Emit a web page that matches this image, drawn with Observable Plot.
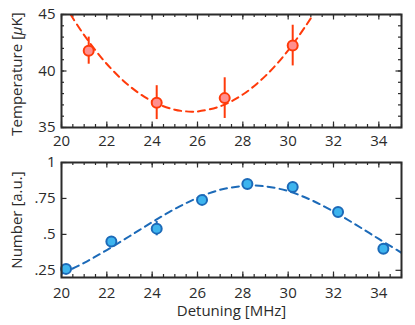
<!DOCTYPE html>
<html>
<head>
<meta charset="utf-8">
<script src="https://cdn.jsdelivr.net/npm/d3@7"></script>
<script src="https://cdn.jsdelivr.net/npm/@observablehq/plot@0.6"></script>
<style>
  html, body { margin: 0; padding: 0; background: #fff; }
  #chart { width: 415px; }
  #chart svg { display: block; font-family: 'Open Sans', 'Noto Sans', sans-serif; font-size: 15px; }
</style>
</head>
<body>
<div id="chart"></div>
<script>
// ---- Data ----
// Top panel: temperature vs detuning
const tempDetuning = [21.2, 24.2, 27.2, 30.2];
const tempValue    = [41.8, 37.2, 37.6, 42.25];
const tempError    = [1.2, 1.5, 1.8, 1.8];
// Top panel fit curve
const tempFitX = [20.4, 21, 22, 23, 24, 25, 25.75, 26, 27, 28, 29, 30, 31, 31.1];
const tempFitY = [45.0, 43.17, 40.62, 38.67, 37.32, 36.57, 36.4, 36.42, 36.87, 37.92, 39.57, 41.82, 44.67, 45.0];

// Bottom panel: number vs detuning
const numDetuning = [20.2, 22.2, 24.2, 26.2, 28.2, 30.2, 32.2, 34.2];
const numValue    = [0.26, 0.45, 0.54, 0.74, 0.85, 0.83, 0.655, 0.40];
const numError    = [0.03, 0.02, 0.05, 0.02, 0.02, 0.03, 0.03, 0.02];
// Bottom panel fit curve
const numFitX = [20, 21, 22, 23, 24, 25, 26, 27, 28, 28.4, 29, 30, 31, 32, 33, 34, 35];
const numFitY = [0.225, 0.302, 0.391, 0.487, 0.585, 0.677, 0.754, 0.81, 0.837, 0.84, 0.834, 0.801, 0.74, 0.659, 0.566, 0.468, 0.372];

// Ticks
const xMajorTicks = [20, 22, 24, 26, 28, 30, 32, 34];
const xMinorTicks = d3.range(20, 35.01, 0.5);
const tempMajorTicks = [35, 40, 45];
const tempMinorTicks = d3.range(35, 45.01, 1);
const numMajorTicks = [0.25, 0.5, 0.75, 1];
const numTickLabels = [".25", ".5", ".75", "1"];

// ---- Styles ----
const FONT = "Open Sans, Noto Sans, sans-serif";
const FS = 15;
const INK = "#2b2b2b";
const RED = "#ff3a0a";
const RED_FILL = "#ff8f8f";
const BLUE = "#1c6ab8";
const BLUE_FILL = "#3db4ee";
const R = 5;

const W = 415, ML = 61, MR = 14;
const plotW = W - ML - MR;

function boxTicks(xTicks, len, plotH) {
  return [
    Plot.tickX(xTicks, {x: d => d, insetTop: plotH - len, stroke: INK, strokeWidth: 1.2}),
    Plot.tickX(xTicks, {x: d => d, insetBottom: plotH - len, stroke: INK, strokeWidth: 1.2})
  ];
}
function boxTicksY(yTicks, len) {
  return [
    Plot.tickY(yTicks, {y: d => d, insetRight: plotW - len, stroke: INK, strokeWidth: 1.2}),
    Plot.tickY(yTicks, {y: d => d, insetLeft: plotW - len, stroke: INK, strokeWidth: 1.2})
  ];
}

// ---- Top panel ----
const topH = 150, topMT = 14, topMB = 23;
const topPlotH = topH - topMT - topMB;
const tempData = tempDetuning.map((x, i) => ({x, y: tempValue[i], e: tempError[i]}));
const tempFit = tempFitX.map((x, i) => ({x, y: tempFitY[i]}));

const topPanel = Plot.plot({
  width: W, height: topH,
  marginTop: topMT, marginBottom: topMB, marginLeft: ML, marginRight: MR,
  style: {fontFamily: FONT, fontSize: FS + "px", color: INK, background: "white"},
  x: {domain: [20, 35]},
  y: {domain: [35, 45]},
  marks: [
    Plot.axisX({ticks: xMajorTicks, tickSize: 0, tickPadding: 8, label: null, fill: INK, fontSize: FS}),
    Plot.axisY({ticks: tempMajorTicks, tickSize: 0, tickPadding: 6, label: null, fill: INK, fontSize: FS}),
    ...boxTicks(xMinorTicks, 3, topPlotH),
    ...boxTicks(xMajorTicks, 5.5, topPlotH),
    ...boxTicksY(tempMinorTicks, 3),
    ...boxTicksY(tempMajorTicks, 5.5),
    Plot.line(tempFit, {x: "x", y: "y", curve: "catmull-rom", stroke: RED, strokeWidth: 2, strokeDasharray: "7,5", clip: true}),
    Plot.ruleX(tempData, {x: "x", y1: d => d.y - d.e, y2: d => d.y + d.e, stroke: RED, strokeWidth: 2}),
    Plot.dot(tempData, {x: "x", y: "y", r: R, fill: RED_FILL, stroke: RED, strokeWidth: 2}),
    Plot.frame({stroke: INK, strokeWidth: 2}),
    Plot.text(["Temperature [μK]"], {text: d => d, frameAnchor: "left", dx: -44, dy: 3, rotate: -90, textAnchor: "middle", fill: INK, fontSize: FS, lineAnchor: "middle"})
  ]
});

// ---- Bottom panel ----
const botH = 175, botMT = 12, botMB = 48;
const botPlotH = botH - botMT - botMB;
const numData = numDetuning.map((x, i) => ({x, y: numValue[i], e: numError[i]}));
const numFit = numFitX.map((x, i) => ({x, y: numFitY[i]}));

const bottomPanel = Plot.plot({
  width: W, height: botH,
  marginTop: botMT, marginBottom: botMB, marginLeft: ML, marginRight: MR,
  style: {fontFamily: FONT, fontSize: FS + "px", color: INK, background: "white"},
  x: {domain: [20, 35]},
  y: {domain: [0.2, 1]},
  marks: [
    Plot.axisX({ticks: xMajorTicks, tickSize: 0, tickPadding: 10, label: null, fill: INK, fontSize: FS}),
    Plot.axisY({ticks: numMajorTicks, tickSize: 0, tickPadding: 6, label: null, fill: INK, fontSize: FS,
                tickFormat: d => numTickLabels[numMajorTicks.indexOf(d)]}),
    ...boxTicks(xMinorTicks, 3, botPlotH),
    ...boxTicks(xMajorTicks, 5.5, botPlotH),
    ...boxTicksY(numMajorTicks, 5.5),
    Plot.line(numFit, {x: "x", y: "y", curve: "catmull-rom", stroke: BLUE, strokeWidth: 2, strokeDasharray: "7,5", clip: true}),
    Plot.ruleX(numData, {x: "x", y1: d => d.y - d.e, y2: d => d.y + d.e, stroke: BLUE, strokeWidth: 2}),
    Plot.dot(numData, {x: "x", y: "y", r: R, fill: BLUE_FILL, stroke: BLUE, strokeWidth: 2}),
    Plot.frame({stroke: INK, strokeWidth: 2}),
    Plot.text(["Number [a.u.]"], {text: d => d, frameAnchor: "left", dx: -44, rotate: -90, textAnchor: "middle", fill: INK, fontSize: FS, lineAnchor: "middle"}),
    Plot.text(["Detuning [MHz]"], {text: d => d, frameAnchor: "bottom", dy: 34, textAnchor: "middle", fill: INK, fontSize: FS, lineAnchor: "middle"})
  ]
});

const chart = document.getElementById("chart");
chart.appendChild(topPanel);
chart.appendChild(bottomPanel);

// Italicise the mu in the temperature label
topPanel.querySelectorAll("text").forEach(t => {
  if (t.textContent === "Temperature [μK]") {
    t.textContent = "";
    const parts = [["Temperature [", null], ["μ", "italic"], ["K]", null]];
    for (const [s, st] of parts) {
      const ts = document.createElementNS("http://www.w3.org/2000/svg", "tspan");
      ts.textContent = s;
      if (st) ts.setAttribute("font-style", st);
      t.appendChild(ts);
    }
  }
});
</script>
</body>
</html>
